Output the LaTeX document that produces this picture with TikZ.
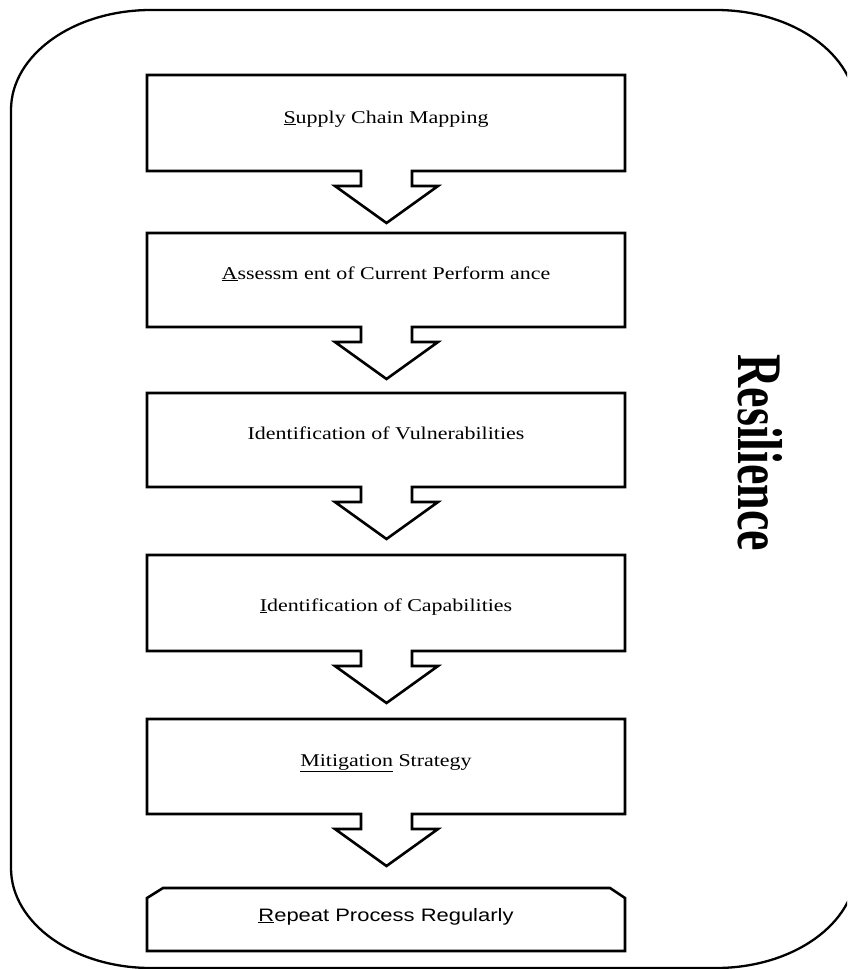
\documentclass[tikz,border=0pt]{standalone}
\usepackage{fontspec}
\setmainfont{Liberation Serif}
\newfontfamily\arialfont{Liberation Sans}
\usepackage{graphicx}
\newcommand\FlowStep[5]{%
  \draw[outline] (147,#2) -- (625,#2) -- (625,#3) -- (412,#3) -- (412,{#3+15}) -- (438,{#3+15})
    -- (386.5,{#3+52}) -- (335,{#3+15}) -- (361,{#3+15}) -- (361,#3) -- (147,#3) -- cycle;
  \node[steptext] (#1) at (386,#5) {\scalebox{1.22}[1]{#4}};%
}
\begin{document}
\begin{tikzpicture}[x=1pt,y=-1pt,
  outline/.style={draw=black,line width=2.6pt,line join=miter},
  frame/.style={draw=black,line width=2.3pt},
  steptext/.style={anchor=base,inner sep=0pt,font=\fontsize{18}{21}\selectfont},
  lasttext/.style={anchor=base,inner sep=0pt,font=\arialfont\fontsize{18}{21}\selectfont},
  bigword/.style={rotate=-90,inner sep=0pt,font=\bfseries\fontsize{46}{50}\selectfont}]
\useasboundingbox (0,0) rectangle (847,969);
\clip (0,0) rectangle (847,969);
\fill[white] (0,0) rectangle (847,969);
% outer frame
\draw[frame] (11,110) .. controls (11,54.8) and (73.7,10) .. (151,10)
  -- (716,10) .. controls (793.3,10) and (856,54.8) .. (856,110)
  -- (856,868) .. controls (856,923.2) and (793.3,968) .. (716,968)
  -- (151,968) .. controls (73.7,968) and (11,923.2) .. (11,868) -- cycle;
% steps
\FlowStep{s1}{75}{171}{\underline{S}upply Chain Mapping}{123}
\FlowStep{s2}{233}{327}{\underline{A}ssessm\hspace{0.25em}ent of Current Perform\hspace{0.25em}ance}{279}
\FlowStep{s3}{393}{487}{Identification of Vulnerabilities}{439}
\FlowStep{s4}{555}{651}{\underline{I}dentification of Capabilities}{611}
\FlowStep{s5}{719}{814}{\underline{Mitigation} Strategy}{766}
% last box
\draw[outline] (163,888) -- (610,888) -- (625,898) -- (625,951) -- (147,951) -- (147,898) -- cycle;
\node[lasttext] (s6) at (386,921) {\scalebox{1.22}[1]{\underline{R}epeat Process Regularly}};
% side label
\node[bigword] (res) at (760,453) {\scalebox{1}[1.38]{Resilience}};
\end{tikzpicture}
\end{document}
